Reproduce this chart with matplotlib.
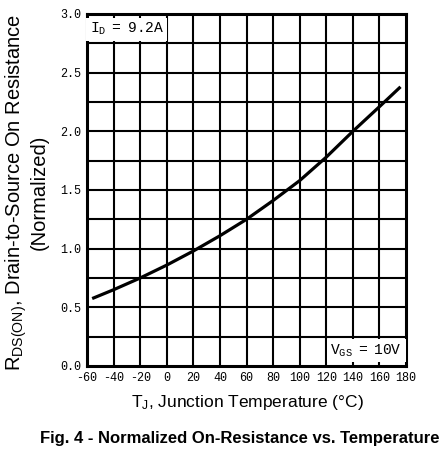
import matplotlib
matplotlib.use("Agg")
import matplotlib.pyplot as plt
import numpy as np

# Data
temp_c = [-55, -40, -20, 0, 20, 40, 60, 80, 100, 120, 140, 160, 175]
rds_norm = [0.58, 0.65, 0.75, 0.86, 0.98, 1.11, 1.25, 1.41, 1.58, 1.78, 2.00, 2.21, 2.37]
x_ticks = [-60, -40, -20, 0, 20, 40, 60, 80, 100, 120, 140, 160, 180]
y_ticks = [0.0, 0.5, 1.0, 1.5, 2.0, 2.5, 3.0]
y_grid = [0.25, 0.5, 0.75, 1.0, 1.25, 1.5, 1.75, 2.0, 2.25, 2.5, 2.75]

plt.rcParams['mathtext.fontset'] = 'custom'
plt.rcParams['mathtext.rm'] = 'Liberation Sans'
plt.rcParams['mathtext.it'] = 'Liberation Sans:italic'
plt.rcParams['mathtext.tt'] = 'Liberation Mono'
plt.rcParams['axes.unicode_minus'] = False

fig = plt.figure(figsize=(4.48, 4.57), dpi=100)
ax = fig.add_axes([87/448, 1-366/457, (406-87)/448, (366-14)/457])

ax.set_xlim(-60, 180)
ax.set_ylim(0, 3.0)

for xv in x_ticks[1:-1]:
    ax.axvline(xv, color='black', lw=1.5, zorder=1)
for yv in y_grid:
    ax.axhline(yv, color='black', lw=1.5, zorder=1)

ax.plot(temp_c, rds_norm, color='black', lw=2.3, zorder=3)

for s in ax.spines.values():
    s.set_linewidth(2.2)

ax.set_xticks(x_ticks)
ax.set_yticks(y_ticks)
ax.set_xticklabels([str(v) for v in x_ticks], fontfamily='Liberation Mono', fontsize=8.5)
ax.set_yticklabels([f"{v:.1f}" for v in y_ticks], fontfamily='Liberation Mono', fontsize=8.5)
ax.tick_params(length=0, pad=4)

ax.text(-58, 2.94, r"$\mathtt{I_D\ =\ 9.2A}$", fontsize=10.5, va='top', ha='left',
        zorder=4, bbox=dict(facecolor='white', edgecolor='none', pad=2.5))
ax.text(177, 0.06, r"$\mathtt{V_{GS}\ =\ 10V}$", fontsize=10.5, va='bottom', ha='right',
        zorder=4, bbox=dict(facecolor='white', edgecolor='none', pad=2.5))

fig.text(247/448, 1-402/457, r"$\mathrm{T_J}$, Junction Temperature (°C)",
         fontfamily='Liberation Sans', fontsize=12.5, ha='center', va='center')
fig.text(26/448, 1-192/457,
         r"$\mathrm{R_{DS(ON)}}$, Drain-to-Source On Resistance" + "\n(Normalized)",
         fontfamily='Liberation Sans', fontsize=14.5, ha='center', va='center',
         rotation=90, multialignment='center', linespacing=1.05)
fig.text(240/448, 1-439/457, "Fig. 4 - Normalized On-Resistance vs. Temperature",
         fontfamily='Liberation Sans', fontweight='bold', fontsize=12,
         ha='center', va='center')

fig.savefig("out.png", dpi=100)
